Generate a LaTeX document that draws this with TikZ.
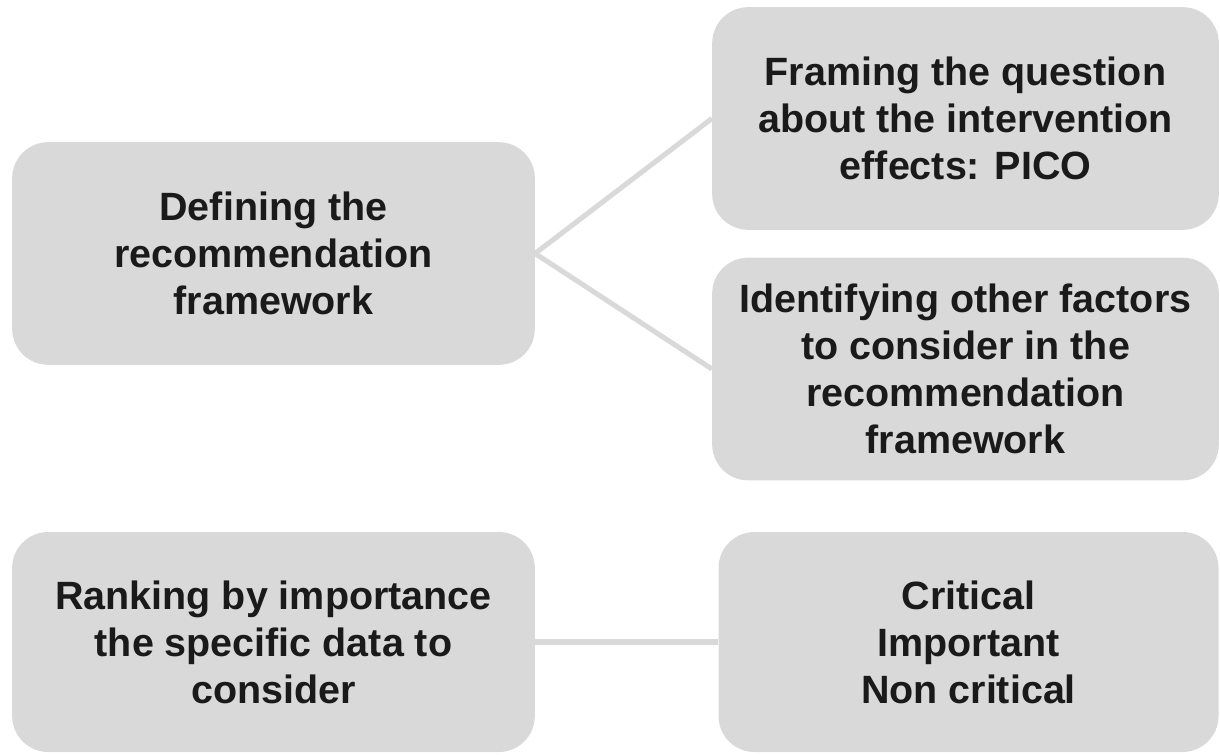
\documentclass[tikz,border=0pt]{standalone}
\usepackage{fontspec}
\setmainfont{Liberation Sans}
\definecolor{boxgray}{HTML}{D9D9D9}
\definecolor{textdark}{HTML}{1A1A1A}
\tikzset{
    stepbox/.style={fill=boxgray, rounded corners=27pt, align=center,
        text=textdark, font=\fontsize{29.6}{35.3}\selectfont\bfseries, inner sep=0pt},
    link/.style={draw=boxgray, line width=3.8pt}
}
\begin{document}
\begin{tikzpicture}[x=0.75pt, y=-0.75pt]
        \useasboundingbox (0, 0) rectangle (1220, 754);
        \node[stepbox, minimum width=392pt, minimum height=167pt] (D) at (273.5, 253.5) {Defining the\\recommendation\\framework};
        \node[stepbox, minimum width=380pt, minimum height=167pt] (F) at (965.5, 118.5) {Framing the question\\about the intervention\\effects: PICO};
        \node[stepbox, minimum width=380pt, minimum height=167pt] (I) at (965.5, 369) {Identifying other factors\\to consider in the\\recommendation\\framework};
        \node[stepbox, minimum width=392pt, minimum height=165pt] (R) at (273.5, 642) {Ranking by importance\\the specific data to\\consider};
        \node[stepbox, minimum width=375pt, minimum height=165pt] (C) at (968.5, 642) {Critical\\Important\\Non critical};

        \path[link]
            (D.east) edge (F.west) edge (I.west)
            (R.east) edge (C.west);
    \end{tikzpicture}
\end{document}
